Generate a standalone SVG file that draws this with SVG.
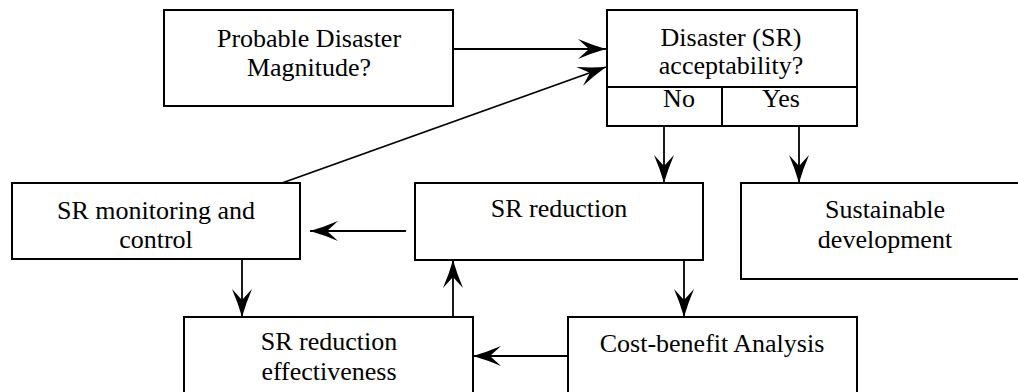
<svg xmlns="http://www.w3.org/2000/svg" width="1018" height="392" viewBox="0 0 1018 392">
<style>
.box{fill:#fff;stroke:#000;stroke-width:2}
.t{font-family:"Liberation Serif","Times New Roman",serif;font-size:26px;fill:#000;text-anchor:middle}
.c{stroke:#000;stroke-width:1.8;fill:none;marker-end:url(#ah)}
</style>
<defs>
<marker id="ah" markerUnits="userSpaceOnUse" viewBox="-30 -12 32 24" markerWidth="32" markerHeight="24" refX="0" refY="0" orient="auto">
<path d="M0,0 Q-14,-4 -28,-10 L-17,0 L-28,10 Q-14,4 0,0 Z" fill="#000"/>
</marker>
</defs>
<rect width="1018" height="392" fill="#fff"/>
<g id="connectors">
<line class="c" x1="453" y1="49" x2="606" y2="49"/>
<line class="c" x1="282" y1="183" x2="606" y2="67"/>
<line class="c" x1="664" y1="126" x2="664" y2="183"/>
<line class="c" x1="799" y1="126" x2="799" y2="183"/>
<line class="c" x1="406" y1="231" x2="310" y2="231"/>
<line class="c" x1="242" y1="259" x2="242" y2="317"/>
<line class="c" x1="453" y1="317" x2="453" y2="260"/>
<line class="c" x1="684" y1="260" x2="684" y2="317"/>
<line class="c" x1="568" y1="356" x2="473" y2="356"/>
</g>
<g id="probable">
<rect class="box" x="164" y="10" width="289" height="96"/>
<text class="t" x="309" y="47">Probable Disaster</text>
<text class="t" x="309" y="76">Magnitude?</text>
</g>
<g id="acceptability">
<rect class="box" x="607" y="10" width="250" height="116"/>
<line x1="607" y1="87" x2="857" y2="87" stroke="#000" stroke-width="2"/>
<line x1="722" y1="87" x2="722" y2="126" stroke="#000" stroke-width="2"/>
<text class="t" x="731" y="46">Disaster (SR)</text>
<text class="t" x="731" y="74">acceptability?</text>
<text class="t" x="679" y="107">No</text>
<text class="t" x="781" y="107">Yes</text>
</g>
<g id="monitoring">
<rect class="box" x="12" y="183" width="288" height="76"/>
<text class="t" x="156" y="219">SR monitoring and</text>
<text class="t" x="156" y="248">control</text>
</g>
<g id="reduction">
<rect class="box" x="415" y="183" width="288" height="77"/>
<text class="t" x="559" y="217">SR reduction</text>
</g>
<g id="sustainable">
<rect class="box" x="741" y="183" width="290" height="96"/>
<text class="t" x="885" y="218">Sustainable</text>
<text class="t" x="885" y="248">development</text>
</g>
<g id="effectiveness">
<rect class="box" x="184" y="317" width="289" height="90"/>
<text class="t" x="329" y="350">SR reduction</text>
<text class="t" x="329" y="380">effectiveness</text>
</g>
<g id="costbenefit">
<rect class="box" x="568" y="317" width="289" height="90"/>
<text class="t" x="712" y="352">Cost-benefit Analysis</text>
</g>
</svg>
